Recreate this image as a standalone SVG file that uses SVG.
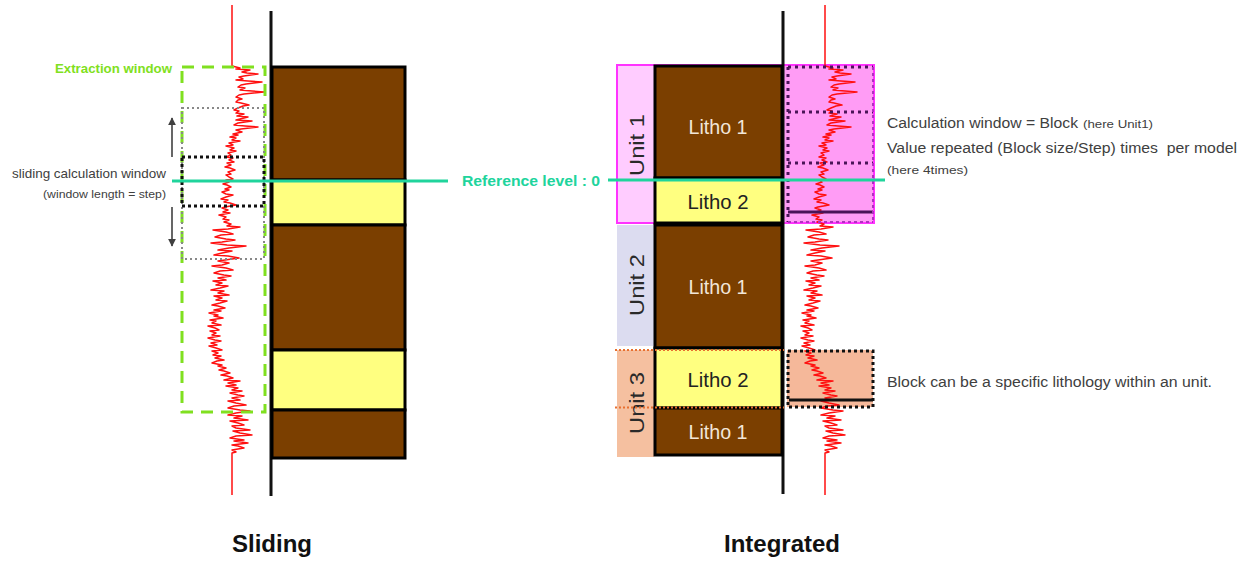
<svg xmlns="http://www.w3.org/2000/svg" xmlns:xlink="http://www.w3.org/1999/xlink" width="1251" height="561" viewBox="0 0 1251 561">
<defs>
<style>
.brown{fill:#7b3f00;stroke:#000;stroke-width:3}
.yellow{fill:#ffff80;stroke:#000;stroke-width:3}
.axis{stroke:#111;stroke-width:3;fill:none}
.log{fill:none;stroke:#ff1010;stroke-width:1.5;stroke-linejoin:round}
.ref{stroke:#20d49c;stroke-width:3;fill:none}
.lbl{font-family:"Liberation Sans",Arial,sans-serif;fill:#404040;font-size:14px}
.small{font-family:"Liberation Sans",Arial,sans-serif;fill:#404040;font-size:11px}
.litho{font-family:"Liberation Sans",Arial,sans-serif;font-size:21px;text-anchor:middle}
.unit{font-family:"Liberation Sans",Arial,sans-serif;font-size:21px;fill:#2a2a2a;text-anchor:middle;dominant-baseline:central}
.title{font-family:"Liberation Sans",Arial,sans-serif;font-size:24px;font-weight:bold;fill:#111;text-anchor:middle}
.gdot{fill:none;stroke:#888;stroke-width:2;stroke-dasharray:2 3}
.bdot{fill:none;stroke:#111;stroke-width:3;stroke-dasharray:3 3}
.pdot{fill:none;stroke:#4a1458;stroke-width:3;stroke-dasharray:3 4}
</style>
<marker id="ah" viewBox="0 0 10 10" refX="9" refY="5" markerWidth="5" markerHeight="5" orient="auto-start-reverse"><path d="M0,0 L10,5 L0,10 z" fill="#404040"/></marker>
<polyline id="trace" class="log" points="232,5 232,66 240,68 236,69 250,70 242,72 247,73 258,74 244,76 239,77 243,79 236,80 248,81 262,82 246,84 241,85 238,87 245,88 240,90 252,91 264,92 244,94 239,95 236,97 242,99 238,100 236,102 241,103 249,105 243,106 238,108 234,110 239,111 236,113 244,114 237,116 248,117 240,119 236,120 252,121 238,123 234,125 245,126 258,127 241,129 236,130 242,132 233,134 238,135 230,137 236,138 232,140 240,141 229,143 233,145 226,146 234,148 230,150 236,151 228,153 231,155 226,157 233,158 229,160 234,162 227,163 231,165 225,167 230,168 235,170 228,172 231,174 226,175 229,177 233,179 226,180 229,182 223,184 227,185 231,187 225,189 229,190 222,192 226,194 233,195 226,197 221,199 228,200 224,202 230,203 236,205 225,207 222,208 228,210 223,212 230,213 219,215 226,217 223,219 229,220 224,222 231,224 227,226 240,227 228,229 213,230 226,232 233,234 221,235 215,237 226,239 235,240 222,242 211,243 227,245 246,246 229,248 218,250 232,251 222,253 214,255 228,256 239,258 225,260 218,261 229,263 222,265 212,266 226,268 233,270 220,271 214,273 224,275 231,276 218,278 226,280 213,281 222,283 216,285 228,286 220,288 211,290 224,291 218,293 229,295 214,296 222,298 216,300 227,301 220,303 212,305 218,306 225,308 214,310 221,311 209,313 218,315 214,316 223,318 210,320 216,321 212,323 221,325 208,326 215,328 219,330 210,331 216,333 212,335 220,336 208,338 215,340 221,341 211,343 217,345 209,346 216,348 222,350 212,351 218,353 213,355 221,356 215,358 224,360 217,361 212,363 222,365 218,366 226,368 219,370 224,371 230,373 221,375 227,376 233,378 224,380 240,381 228,383 236,385 226,386 238,388 232,390 242,391 230,393 238,395 244,396 232,398 240,400 228,401 236,403 246,405 234,406 228,408 240,410 250,411 236,413 228,415 242,416 234,418 248,420 230,421 238,423 244,425 232,426 236,428 250,430 233,431 240,433 252,435 236,436 230,438 244,440 234,441 248,443 232,445 238,446 244,448 232,450 236,452 232,453 232,495"/>
</defs>
<rect width="1251" height="561" fill="#fff"/>

<!-- ===== Sliding panel ===== -->
<g id="sliding-log">
<use xlink:href="#trace" href="#trace"/>
</g>
<g id="sliding-column">
<line class="axis" x1="271" y1="11" x2="271" y2="496"/>
<rect class="brown" x="272" y="67" width="133" height="113"/>
<rect class="yellow" x="272" y="180" width="133" height="45"/>
<rect class="brown" x="272" y="225" width="133" height="125"/>
<rect class="yellow" x="272" y="350" width="133" height="60"/>
<rect class="brown" x="272" y="410" width="133" height="48"/>
</g>
<g id="extraction-window">
<rect x="182" y="67" width="83" height="345" fill="none" stroke="#80e020" stroke-width="3" stroke-dasharray="12 8"/>
<text x="55" y="73" textLength="117" lengthAdjust="spacingAndGlyphs" style="font-family:'Liberation Sans',Arial,sans-serif;font-size:13px;font-weight:bold;fill:#80e020">Extraction window</text>
</g>
<g id="sliding-windows">
<rect class="gdot" x="182" y="108" width="82" height="151"/>
<rect class="bdot" x="182" y="157" width="82" height="49"/>
</g>
<g id="sliding-label">
<text class="lbl" x="166" y="178" text-anchor="end" textLength="154" lengthAdjust="spacingAndGlyphs" style="font-size:13px">sliding calculation window</text>
<text class="small" x="166" y="198" text-anchor="end" textLength="123" lengthAdjust="spacingAndGlyphs">(window length = step)</text>
</g>

<!-- ===== Integrated panel ===== -->
<g id="unit1">
<rect x="617" y="65" width="257" height="158" fill="#ffccff" stroke="#ff33ff" stroke-width="2"/>
<rect x="784" y="66" width="89" height="156" fill="#ff9cf5"/>
<line x1="784" y1="223" x2="874" y2="223" stroke="#ff33ff" stroke-width="2"/>
<text class="unit" transform="translate(636,145) rotate(-90)" textLength="62" lengthAdjust="spacingAndGlyphs">Unit 1</text>
</g>
<g id="unit2">
<rect x="617" y="225" width="37" height="121" fill="#dcdcf0"/>
<text class="unit" transform="translate(636,285) rotate(-90)" textLength="62" lengthAdjust="spacingAndGlyphs">Unit 2</text>
</g>
<g id="unit3">
<rect x="617" y="350" width="37" height="107" fill="#f5c0a0"/>
<text class="unit" transform="translate(636,403) rotate(-90)" textLength="62" lengthAdjust="spacingAndGlyphs">Unit 3</text>
</g>
<g id="block-lithology">
<rect x="787" y="350" width="86" height="57" fill="#f5b89a"/>
</g>
<g id="integrated-log">
<use xlink:href="#trace" href="#trace" transform="translate(593,0)"/>
</g>
<g id="integrated-column">
<line class="axis" x1="783" y1="11" x2="783" y2="494"/>
<rect class="brown" x="655" y="66" width="127" height="112"/>
<rect class="yellow" x="655" y="178" width="127" height="45"/>
<rect class="brown" x="655" y="225" width="127" height="123"/>
<rect class="yellow" x="655" y="348" width="127" height="60"/>
<rect class="brown" x="655" y="408" width="127" height="47"/>
<text class="litho" x="718" y="134" fill="#f2e6d8" textLength="59" lengthAdjust="spacingAndGlyphs">Litho 1</text>
<text class="litho" x="718" y="209" fill="#222" textLength="61" lengthAdjust="spacingAndGlyphs">Litho 2</text>
<text class="litho" x="718" y="294" fill="#f2e6d8" textLength="59" lengthAdjust="spacingAndGlyphs">Litho 1</text>
<text class="litho" x="718" y="387" fill="#222" textLength="61" lengthAdjust="spacingAndGlyphs">Litho 2</text>
<text class="litho" x="718" y="439" fill="#f2e6d8" textLength="59" lengthAdjust="spacingAndGlyphs">Litho 1</text>
</g>
<g id="unit3-bounds">
<line x1="615" y1="350" x2="784" y2="350" stroke="#e87030" stroke-width="2" stroke-dasharray="2 2"/>
<line x1="615" y1="407.5" x2="784" y2="407.5" stroke="#e87030" stroke-width="2" stroke-dasharray="2 2"/>
</g>
<g id="unit1-windows">
<line class="pdot" x1="788" y1="67" x2="788" y2="222"/>
<line class="pdot" x1="788" y1="67" x2="873" y2="67"/>
<line class="pdot" x1="788" y1="112" x2="873" y2="112"/>
<line class="pdot" x1="788" y1="163" x2="873" y2="163"/>
<line x1="788" y1="212" x2="873" y2="212" stroke="#4a1458" stroke-width="3"/>
<line x1="788" y1="222" x2="873" y2="222" stroke="#b030c0" stroke-width="2" stroke-dasharray="3 3"/>
<line x1="873" y1="67" x2="873" y2="222" stroke="#b030c0" stroke-width="2" stroke-dasharray="3 3"/>
</g>
<g id="block-window">
<rect class="bdot" x="788" y="351" width="85" height="56"/>
<line x1="789" y1="400" x2="873" y2="400" stroke="#111" stroke-width="3"/>
</g>
<g id="notes">
<text class="lbl" x="887" y="128" textLength="191" lengthAdjust="spacingAndGlyphs">Calculation window = Block</text>
<text class="small" x="1083" y="128" textLength="70" lengthAdjust="spacingAndGlyphs">(here Unit1)</text>
<text class="lbl" x="887" y="153" textLength="350" lengthAdjust="spacingAndGlyphs" xml:space="preserve">Value repeated (Block size/Step) times  per model</text>
<text class="small" x="887" y="174" textLength="81" lengthAdjust="spacingAndGlyphs">(here 4times)</text>
<text class="lbl" x="887" y="387" textLength="325" lengthAdjust="spacingAndGlyphs">Block can be a specific lithology within an unit.</text>
</g>

<!-- ===== Connectors ===== -->
<g id="connectors">
<line class="ref" x1="172" y1="181" x2="448" y2="181"/>
<line class="ref" x1="608" y1="180" x2="885" y2="180"/>
<line x1="172" y1="157" x2="172" y2="118" stroke="#404040" stroke-width="1.6" marker-end="url(#ah)"/>
<line x1="172" y1="207" x2="172" y2="246" stroke="#404040" stroke-width="1.6" marker-end="url(#ah)"/>
</g>
<g id="reference-label">
<text x="462" y="186" textLength="138" lengthAdjust="spacingAndGlyphs" style="font-family:'Liberation Sans',Arial,sans-serif;font-size:15px;font-weight:bold;fill:#20d49c">Reference level : 0</text>
</g>

<g id="titles">
<text class="title" x="272" y="552">Sliding</text>
<text class="title" x="782" y="552">Integrated</text>
</g>
</svg>
